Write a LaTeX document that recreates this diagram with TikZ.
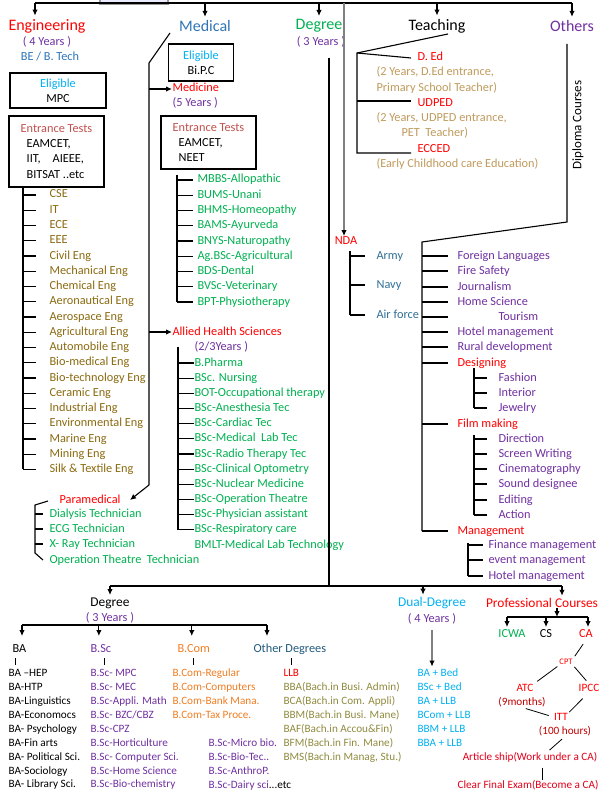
\documentclass[tikz,border=0pt]{standalone}
\usepackage{fontspec}
\setmainfont{Carlito}
\usetikzlibrary{arrows.meta}

\definecolor{cred}{HTML}{FF0000}
\definecolor{cdred}{HTML}{C00000}
\definecolor{cart}{HTML}{E0001A}
\definecolor{cpurple}{HTML}{7030A0}
\definecolor{cblue}{HTML}{2E75B6}
\definecolor{clight}{HTML}{00B0F0}
\definecolor{cgreen}{HTML}{00B050}
\definecolor{ctests}{HTML}{C0504D}
\definecolor{cengi}{HTML}{8A6A10}
\definecolor{ctan}{HTML}{BF9A5C}
\definecolor{colive}{HTML}{8F8A3E}
\definecolor{carmy}{HTML}{2E6F95}
\definecolor{corange}{HTML}{F07D22}
\definecolor{cother}{HTML}{215A7C}

\tikzset{
  head/.style={font=\fontsize{16}{18}\selectfont, inner sep=0pt},
  head2/.style={font=\fontsize{13.4}{15}\selectfont, inner sep=0pt},
  txt/.style={font=\fontsize{12.3}{15.2}\selectfont, inner sep=0pt, text height=8.4pt, text depth=2.4pt},
  item/.style={txt, anchor=west},
  sitem/.style={font=\fontsize{11.2}{13}\selectfont, inner sep=0pt, text height=7.6pt, text depth=2.2pt, anchor=west},
  sml/.style={font=\fontsize{11.2}{13}\selectfont, inner sep=0pt},
  boxtxt/.style={draw, line width=1.1pt, inner sep=0pt, font=\fontsize{12.3}{15.2}\selectfont},
  arr/.style={-{Latex[length=6pt,width=5.5pt]}},
  garr/.style={draw=gray, -{Latex[length=6pt,width=5.5pt,color=black]}},
}

\begin{document}
\begin{tikzpicture}[x=1pt, y=-1pt, line width=1.1pt]
\useasboundingbox (0,0) rectangle (608,799);

% top bar
\draw[draw=gray!80, fill=blue!8] (100,-10) rectangle (168,4);
\coordinate (t0) at (35,3);
\coordinate (t1) at (572,3);
\draw (t0) -- (t1);

\node[head, text=cred] (eng) at (47,26) {Engineering};
\node[head, text=cblue] (med) at (205,26) {Medical};
\node[head, text=cgreen] (deg) at (319,26) {Degree};
\node[head] (teach) at (437,26) {Teaching};
\node[head, text=cpurple] (oth) at (572,26) {Others};

\draw[arr, shorten >=3pt] (t0) -- (t0 |- eng.north);
\foreach \n in {med, deg, teach, oth}
  \draw[arr, shorten >=3pt] (\n.north |- t0) -- (\n.north);

% engineering
\node[txt, text=cpurple] (engyr) at (47,43) {( 4 Years )};
\node[txt, text=cblue] (engbe) at (50,58) {BE / B. Tech};
\node[boxtxt, minimum width=96pt, minimum height=35pt, align=center] (mpc) at (58,90.5)
  {\textcolor{clight}{Eligible}\\MPC};
\node[boxtxt, minimum width=95pt, minimum height=71pt, align=left] (engtest) at (56.5,151.5)
  {\textcolor{ctests}{Entrance Tests}\\\hspace*{6pt}EAMCET,\\\hspace*{6pt}IIT,\hspace{12pt}AIEEE,\\\hspace*{6pt}BITSAT ..etc};

\coordinate (es0) at (23,187);
\coordinate (es1) at (23,469);
\coordinate (ee) at (36,0);
\draw (es0) -- (es1);
\foreach \t [count=\i] in {CSE, IT, ECE, EEE, Civil Eng, Mechanical Eng, Chemical Eng,
    Aeronautical Eng, Aerospace Eng, Agricultural Eng, Automobile Eng, Bio-medical Eng,
    Bio-technology Eng, Ceramic Eng, Industrial Eng, Environmental Eng, Marine Eng,
    Mining Eng, Silk \& Textile Eng}{
  \node[item, text=cengi] (e\i) at (49,{195+15.25*(\i-1)}) {\t};
  \draw (es0 |- e\i.west) -- (ee |- e\i.west);
}

% medical
\coordinate (mb0) at (170,33);
\coordinate (mb1) at (149,63);
\coordinate (mb2) at (149,485);
\draw (mb0) -- (mb1) -- (mb2);
\node[boxtxt, minimum width=65pt, minimum height=37pt, align=center] (bipc) at (201,62.5)
  {\textcolor{clight}{Eligible}\\Bi.P.C};
\node[item, text=cred] (medicine) at (172,89) {Medicine};
\node[item, text=cpurple] (medyr) at (172,104) {(5 Years )};
\draw[arr] (mb1 |- medicine.west) -- (medicine.west);
\node[boxtxt, minimum width=95pt, minimum height=53pt, align=left] (medtest) at (208.5,142.5)
  {\textcolor{ctests}{Entrance Tests}\\\hspace*{6pt}EAMCET,\\\hspace*{6pt}NEET};

\coordinate (ms0) at (177,175);
\coordinate (ms1) at (177,302);
\coordinate (me) at (193,0);
\draw (ms0) -- (ms1);
\foreach \t [count=\i] in {MBBS-Allopathic, BUMS-Unani, BHMS-Homeopathy, BAMS-Ayurveda,
    BNYS-Naturopathy, Ag.BSc-Agricultural, BDS-Dental, BVSc-Veterinary, BPT-Physiotherapy}{
  \node[item, text=cgreen] (m\i) at (197,{180+15.25*(\i-1)}) {\t};
  \draw (ms0 |- m\i.west) -- (me |- m\i.west);
}

% allied health
\node[item, text=cred] (allied) at (172,332) {Allied Health Sciences};
\draw[arr] (mb1 |- allied.west) -- (allied.west);
\node[item, text=cpurple] (alliedyr) at (194,347) {(2/3Years )};
\coordinate (as0) at (178,347);
\coordinate (as1) at (178,530);
\draw (as0) -- (as1);
\foreach \t [count=\i] in {B.Pharma, BSc. Nursing, BOT-Occupational therapy, BSc-Anesthesia Tec,
    BSc-Cardiac Tec, BSc-Medical\ \ Lab Tec, BSc-Radio Therapy Tec, BSc-Clinical Optometry,
    BSc-Nuclear Medicine, BSc-Operation Theatre, BSc-Physician assistant, BSc-Respiratory care}{
  \node[item, text=cgreen] (a\i) at (194,{363+15.17*(\i-1)}) {\t};
  \draw (as0 |- a\i.west) -- (a\i.west);
}
\node[item, text=cgreen] (a13) at (194,545) {BMLT-Medical Lab Technology};

% paramedical
\node[txt, text=cred] (para) at (90,500) {Paramedical};
\draw[arr] (mb2) -- ([xshift=9pt]para.east);
\coordinate (pb0) at (48,501);
\coordinate (pb1) at (35,505);
\coordinate (pb2) at (35,553);
\coordinate (pb3) at (43,560);
\coordinate (pe) at (43,0);
\draw (pb0) -- (pb1) -- (pb2) -- (pb3);
\foreach \t [count=\i] in {Dialysis Technician, ECG Technician, X- Ray Technician}{
  \node[item, text=cgreen] (p\i) at (49,{514+15*(\i-1)}) {\t};
  \draw (pb1 |- p\i.west) -- (pe |- p\i.west);
}
\node[item, text=cgreen] (p4) at (49,560) {Operation Theatre\ \ Technician};

% degree column
\node[txt, text=cpurple] (degyr) at (321,43) {( 3 Years )};
\coordinate (d0) at (329,58);
\coordinate (d1) at (329,586);
\draw (d0) -- (d1);

% NDA
\node[txt, text=cred] (nda) at (346,242) {NDA};
\coordinate (n0) at (344,3);
\draw[garr] (n0) -- (n0 |- nda.north);
\coordinate (ns0) at (350,251);
\coordinate (ns1) at (350,315);
\coordinate (ne) at (365,0);
\draw (ns0) -- (ns1);
\foreach \t/\y [count=\i] in {Army/256, Navy/285, Air force/315}{
  \node[item, text=carmy] (nd\i) at (376,\y) {\t};
  \draw (ns0 |- nd\i.west) -- (ne |- nd\i.west);
}

% teaching
\coordinate (tb0) at (448,34);
\coordinate (tb1) at (357,53);
\coordinate (tb2) at (357,153);
\coordinate (tb3) at (411,153);
\draw (tb0) -- (tb1) -- (tb2) -- (tb3);
\node[item, text=cred] (ded) at (417,58) {D. Ed};
\node[item, text=ctan] (ded1) at (376,73) {(2 Years, D.Ed entrance,};
\node[item, text=ctan] (ded2) at (376,89) {Primary School Teacher)};
\node[item, text=cred] (udped) at (417,104) {UDPED};
\node[item, text=ctan] (udped1) at (376,119) {(2 Years, UDPED entrance,};
\node[item, text=ctan] (udped2) at (401,134) {PET\ \ Teacher)};
\node[item, text=cred] (ecced) at (417,150) {ECCED};
\node[item, text=ctan] (ecced1) at (376,165) {(Early Childhood care Education)};
\draw (tb1) -- ([xshift=-6pt]ded.west);
\draw ([yshift=3pt]tb1 |- udped.west) -- ([xshift=-6pt, yshift=3pt]udped.west);

% others
\coordinate (ob0) at (567,44);
\coordinate (ob1) at (567,222);
\coordinate (ob2) at (422,242);
\coordinate (ob3) at (422,531);
\coordinate (oe) at (448,0);
\draw (ob0) -- (ob1) -- (ob2) -- (ob3);
\node[font=\fontsize{13}{15}\selectfont, inner sep=0pt, rotate=90] (dipl) at (578,125) {Diploma Courses};
\foreach \t/\x/\y/\c [count=\i] in {Foreign Languages/457/256/cpurple, Fire Safety/457/271/cpurple,
    Journalism/457/287/cpurple, Home Science/457/302/cpurple, Tourism/498/317/cpurple,
    Hotel management/457/332/cpurple, Rural development/457/347/cpurple, Designing/457/363/cred,
    Film making/457/424/cred, Management/457/531/cred}{
  \node[item, text=\c] (o\i) at (\x,\y) {\t};
  \draw (ob2 |- o\i.west) -- (oe |- o\i.west);
}

% designing
\coordinate (ds0) at (474,368);
\coordinate (ds1) at (474,408);
\coordinate (de) at (487,0);
\draw (ds0) -- (ds1);
\foreach \t/\y [count=\i] in {Fashion/378, Interior/393, Jewelry/408}{
  \node[item, text=cpurple] (dg\i) at (498,\y) {\t};
  \draw (ds0 |- dg\i.west) -- (de |- dg\i.west);
}

% film making
\coordinate (fs0) at (474,435);
\coordinate (fs1) at (474,515);
\draw (fs0) -- (fs1);
\foreach \t/\y [count=\i] in {Direction/439, Screen Writing/454, Cinematography/469,
    Sound designee/484, Editing/500, Action/515}{
  \node[item, text=cpurple] (fm\i) at (498,\y) {\t};
  \draw (fs0 |- fm\i.west) -- (de |- fm\i.west);
}

% management
\coordinate (gs0) at (468,543);
\coordinate (gs1) at (468,576);
\coordinate (ge) at (483,0);
\draw (gs0) -- (gs1);
\foreach \t/\y [count=\i] in {Finance management/545, event management/560, Hotel management/576}{
  \node[item, text=cpurple] (mg\i) at (488,\y) {\t};
  \draw (gs0 |- mg\i.west) -- (ge |- mg\i.west);
}

% bottom bar
\coordinate (b0) at (110,586);
\coordinate (b1) at (562,586);
\coordinate (b2) at (423,586);
\draw (b0) -- (b1);

\node[head2] (bdeg) at (110,603) {Degree};
\draw[arr, shorten >=2pt] (b0) -- (bdeg.north);
\node[txt, text=cpurple] (bdegyr) at (110,618) {( 3 Years )};
\coordinate (c0) at (22,625);
\coordinate (c1) at (267,625);
\draw (c0) -- (c1);

\node[item] (ba) at (12,649) {BA};
\node[item, text=cpurple] (bsc) at (90,649) {B.Sc};
\node[item, text=corange] (bcom) at (177,649) {B.Com};
\node[item, text=cother] (obd) at (253,649) {Other Degrees};
\draw[arr, shorten >=7pt] (c0) -- (c0 |- ba.north);
\draw[arr, shorten >=7pt] ([xshift=-2pt]bsc.north |- c0) -- ([xshift=-2pt]bsc.north);
\draw[arr, shorten >=7pt] ([xshift=-2pt]bcom.north |- c0) -- ([xshift=-2pt]bcom.north);
\draw[arr, shorten >=7pt] (c1) -- (c1 |- obd.north);
\draw ([xshift=-4pt, yshift=-3pt]ba.south) -- ([xshift=-4pt, yshift=-10pt]ba.south);
\draw ([xshift=4pt, yshift=-3pt]bsc.south) -- ([xshift=4pt, yshift=-10pt]bsc.south);
\draw ([yshift=-3pt]bcom.south) -- ([yshift=-10pt]bcom.south);
\draw ([xshift=2pt, yshift=-3pt]obd.south) -- ([xshift=2pt, yshift=-10pt]obd.south);

\foreach \t [count=\i] in {BA –HEP, BA-HTP, BA-Linguistics, BA-Economocs, BA- Psychology,
    BA-Fin arts, BA- Political Sci., BA-Sociology, BA- Library Sci.}
  \node[sitem] (ba\i) at (8,{674+13.9*(\i-1)}) {\t};
\foreach \t [count=\i] in {B.Sc- MPC, B.Sc- MEC, B.Sc-Appli. Math, B.Sc- BZC/CBZ, B.Sc-CPZ,
    B.Sc-Horticulture, B.Sc- Computer Sci., B.Sc-Home Science, B.Sc-Bio-chemistry}
  \node[sitem, text=cpurple] (bs\i) at (90,{674+13.9*(\i-1)}) {\t};
\foreach \t [count=\i] in {B.Com-Regular, B.Com-Computers, B.Com-Bank Mana., B.Com-Tax Proce.}
  \node[sitem, text=corange] (bc\i) at (172,{674+13.9*(\i-1)}) {\t};
\foreach \t [count=\i] in {B.Sc-Micro bio., B.Sc-Bio-Tec.., B.Sc-AnthroP.,
    B.Sc-Dairy sci\textcolor{black}{...etc}}
  \node[sitem, text=cpurple] (bx\i) at (208,{744+13.9*(\i-1)}) {\t};
\node[sitem, text=cred] (ob1) at (283,674) {LLB};
\foreach \t [count=\i from 2] in {BBA(Bach.in Busi. Admin), BCA(Bach.in Com. Appli),
    BBM(Bach.in Busi. Mane), BAF(Bach.in Accou\&Fin), BFM(Bach.in Fin. Mane),
    {BMS(Bach.in Manag, Stu.)}}
  \node[sitem, text=colive] (ob\i) at (283,{674+13.9*(\i-1)}) {\t};

% dual degree
\node[head2, text=clight] (dual) at (432,603) {Dual-Degree};
\draw[arr, shorten >=2pt] (b2) -- (b2 |- dual.north);
\node[txt, text=cpurple] (dualyr) at (432,619) {( 4 Years )};
\foreach \t [count=\i] in {BA + Bed, BSc + Bed, BA + LLB, BCom + LLB, BBM + LLB, BBA + LLB}
  \node[sitem, text=clight] (du\i) at (417,{674+13.9*(\i-1)}) {\t};
\draw[garr, shorten >=2pt] ([yshift=-5pt]dualyr.south) -- (dualyr.south |- du1.north);

% professional courses
\node[head2, text=cred] (prof) at (542,603) {Professional Courses};
\draw[arr, shorten >=2pt] (b1) -- (b1 |- prof.north);
\coordinate (q0) at (507,617);
\coordinate (q1) at (588,617);
\coordinate (qm) at (557,617);
\draw[arr] (qm |- prof.south) -- (qm);
\draw (q0) -- (q1);
\node[txt, text=cgreen] (icwa) at (512,634) {ICWA};
\node[txt] (cs) at (546,634) {CS};
\node[txt, text=cred] (ca) at (586,634) {CA};
\draw[arr, shorten >=1pt] (q0) -- (q0 |- icwa.north);
\draw[arr, shorten >=1pt] (cs.north |- q0) -- (cs.north);
\draw[arr, shorten >=1pt] (q1) -- (q1 |- ca.north);

\node[font=\fontsize{8.5}{10}\selectfont, inner sep=0pt, text=cred] (cpt) at (566,662) {CPT};
\node[sml, text=cred] (atc) at (525,688) {ATC};
\node[sml, text=cdred] (atcm) at (522,702) {(9months)};
\node[sml, text=cred] (ipcc) at (589,688) {IPCC};
\node[sml, text=cred] (itt) at (561,717) {ITT};
\node[sml, text=cdred] (itth) at (565,731) {(100 hours)};
\node[sml, text=cart] (art) at (530,757) {Article ship(Work under a CA)};
\node[sml, text=cart] (fin) at (528,785) {Clear Final Exam(Become a CA)};
\draw[line width=0.8pt, shorten <=5pt, shorten >=3pt] (ca.south) -- (cpt.north east);
\draw[line width=0.8pt, shorten <=2pt, shorten >=4pt] (cpt.south west) -- (atc.north east);
\draw[line width=0.8pt, shorten <=2pt, shorten >=4pt] (cpt.south east) -- (ipcc.north);
\draw[line width=0.8pt, shorten <=4pt, shorten >=5pt] (atcm.south) -- (itt.west);
\draw[line width=0.8pt, shorten <=9pt, shorten >=1pt] (ipcc.south) -- (itt.north east);
\draw[line width=0.8pt, shorten <=4pt, shorten >=2pt] (itth.south) -- ([xshift=18pt]art.north);
\draw[line width=0.8pt] ([xshift=12pt, yshift=-5pt]art.south) -- ([xshift=14pt]fin.north);
\end{tikzpicture}
\end{document}
